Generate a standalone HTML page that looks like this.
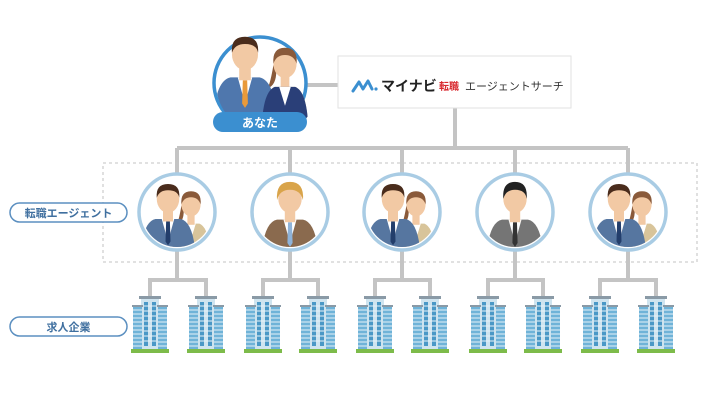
<!DOCTYPE html>
<html><head><meta charset="utf-8"><style>
html,body{margin:0;padding:0;background:#fff;}
svg{display:block}
text{font-family:"Liberation Sans","Noto Sans CJK JP",sans-serif;}
</style></head><body>
<svg width="720" height="415" viewBox="0 0 720 415" xmlns="http://www.w3.org/2000/svg">
<defs>
<g id="bld">
  <rect x="-11" y="0" width="22" height="3" fill="#8a9aa6"/>
  <rect x="-9" y="3" width="18" height="52" fill="#cfe4ef"/>
  <rect x="-17" y="10" width="9" height="45" fill="#6fb3d8"/>
  <rect x="8" y="10" width="9" height="45" fill="#6fb3d8"/>
  <rect x="-18" y="9" width="11" height="2" fill="#8a9aa6"/>
  <rect x="7" y="9" width="11" height="2" fill="#8a9aa6"/>
  <g fill="#4a98c6">
    <rect x="-6" y="6" width="4" height="44"/><rect x="2" y="6" width="4" height="44"/>
  </g>
  <g stroke="#e6f2f8" stroke-width="1">
    <path d="M-17 14H-8M-17 18H-8M-17 22H-8M-17 26H-8M-17 30H-8M-17 34H-8M-17 38H-8M-17 42H-8M-17 46H-8M-17 50H-8"/>
    <path d="M8 14H17M8 18H17M8 22H17M8 26H17M8 30H17M8 34H17M8 38H17M8 42H17M8 46H17M8 50H17"/>
    <path d="M-6 10H6M-6 15H6M-6 20H6M-6 25H6M-6 30H6M-6 35H6M-6 40H6M-6 45H6"/>
  </g>
  <rect x="-19" y="53" width="38" height="4" fill="#7dbb4a"/>
</g>
<g id="man">
  <path d="M-22 40 Q-20 14 -10 12 L10 12 Q20 14 22 40Z" fill="#5676a0"/>
  <path d="M-5 12 L0 30 L5 12Z" fill="#fff"/>
  <path d="M-1.5 14 L1.5 14 L2 30 L0 33 L-2 30Z" fill="#233e6b"/>
  <rect x="-4" y="5" width="8" height="9" fill="#f2c9a4"/>
  <ellipse cx="0" cy="-4" rx="9" ry="11" fill="#f2c9a4"/>
  <path d="M-9 -5 Q-10 -16 0 -16 Q10 -16 9 -5 Q8 -11 0 -11 Q-7 -11 -9 -5Z" fill="#4a2c1c"/>
</g>
<g id="woman">
  <path d="M-16 40 Q-15 16 -7 13 L7 13 Q15 16 16 40Z" fill="#d8c49a"/>
  <path d="M-4 13 L0 26 L4 13Z" fill="#fff"/>
  <rect x="-3" y="6" width="6" height="8" fill="#f2c9a4"/>
  <path d="M-8 -2 Q-10 10 -12 14 Q-6 12 -6 2Z" fill="#8a5a3a"/>
  <ellipse cx="0" cy="-3" rx="8" ry="10" fill="#f2c9a4"/>
  <path d="M-8 -3 Q-9 -14 0 -14 Q9 -14 8 -3 Q6 -9 0 -9 Q-6 -9 -8 -3Z" fill="#8a5a3a"/>
</g>
<clipPath id="cc"><circle cx="0" cy="0" r="35"/></clipPath>
<g id="pair">
  <circle r="38" fill="#fff" stroke="#a9cce4" stroke-width="3.5"/>
  <g clip-path="url(#cc)">
    <g transform="translate(14 -4) scale(1.2)"><use href="#woman"/></g>
    <g transform="translate(-9 -8) scale(1.25)"><use href="#man"/></g>
  </g>
</g>
<g id="single">
  <circle r="38" fill="#fff" stroke="#a9cce4" stroke-width="3.5"/>
</g>
</defs>

<rect x="103" y="163" width="594" height="99" fill="none" stroke="#cfcfcf" stroke-width="1.3" stroke-dasharray="3,3"/>

<g stroke="#c4c4c4" stroke-width="4" fill="none">
  <path d="M300 85H340"/>
  <path d="M455 108V148"/>
  <path d="M177 148H628"/>
  <path d="M177 148V175M290 148V175M402 148V175M515 148V175M628 148V175"/>
  <path d="M177 250V280M290 250V280M402 250V280M515 250V280M628 250V280"/>
  <path d="M150 280H206M263 280H318M375 280H430M488 280H543M600 280H656"/>
  <path d="M150 278V297M206 278V297M263 278V297M318 278V297M375 278V297M430 278V297M488 278V297M543 278V297M600 278V297M656 278V297"/>
</g>

<circle cx="260" cy="83" r="46" fill="#fff" stroke="#3b8fd0" stroke-width="3.5"/>
<clipPath id="tc"><path d="M200 20 H320 V83 A44 44 0 0 1 216 83 Z"/></clipPath>
<g clip-path="url(#tc)">
  <g transform="translate(285 68) scale(1.45)"><use href="#woman"/></g>
  <g transform="translate(245 60) scale(1.45)"><path d="M-22 40 Q-20 14 -10 12 L10 12 Q20 14 22 40Z" fill="#4f77ad"/>
    <path d="M-5 12 L0 30 L5 12Z" fill="#fff"/><path d="M-1.5 14 L1.5 14 L2 30 L0 33 L-2 30Z" fill="#e99a3a"/>
    <rect x="-4" y="5" width="8" height="9" fill="#f2c9a4"/><ellipse cx="0" cy="-4" rx="9" ry="11" fill="#f2c9a4"/>
    <path d="M-9 -5 Q-10 -16 0 -16 Q10 -16 9 -5 Q8 -11 0 -11 Q-7 -11 -9 -5Z" fill="#4a2c1c"/></g>
  <g transform="translate(285 68) scale(1.45)"><path d="M-16 40 Q-15 16 -7 13 L7 13 Q15 16 16 40Z" fill="#2a3f78"/><path d="M-4 13 L0 26 L4 13Z" fill="#fff"/></g>
</g>
<rect x="213" y="112" width="94" height="20" rx="10" fill="#3b8fd0"/>
<text x="260" y="127" font-size="12" font-weight="bold" fill="#fff" text-anchor="middle">あなた</text>

<rect x="338" y="56" width="233" height="52" fill="#fff" stroke="#e2e2e2" stroke-width="1"/>
<path d="M353 91 L359 82 L363 89 L368 81 L372 89" fill="none" stroke="#3b8fd0" stroke-width="3" stroke-linecap="round" stroke-linejoin="round"/>
<circle cx="376" cy="89" r="1.6" fill="#3b8fd0"/>
<text x="381" y="91" font-size="14" font-weight="bold" fill="#222">マイナビ</text>
<text x="439" y="90" font-size="10" font-weight="bold" fill="#d8282e">転職</text>
<text x="465" y="90" font-size="11" fill="#333">エージェントサーチ</text>

<g transform="translate(177 212)"><use href="#pair"/></g>
<g transform="translate(290 212)"><use href="#single"/><g clip-path="url(#cc)"><g transform="translate(0 -8) scale(1.3)"><path d="M-22 40 Q-20 14 -10 12 L10 12 Q20 14 22 40Z" fill="#8a6a4e"/><path d="M-5 12 L0 30 L5 12Z" fill="#fff"/><path d="M-1.5 14 L1.5 14 L2 30 L0 33 L-2 30Z" fill="#8fb3d8"/><rect x="-4" y="5" width="8" height="9" fill="#f2c9a4"/><ellipse cx="0" cy="-4" rx="9" ry="11" fill="#f2c9a4"/><path d="M-10 -3 Q-11 -17 0 -17 Q11 -17 10 -3 Q8 -11 0 -11 Q-8 -11 -10 -3Z" fill="#d9a44a"/></g></g></g>
<g transform="translate(402 212)"><use href="#pair"/></g>
<g transform="translate(515 212)"><use href="#single"/><g clip-path="url(#cc)"><g transform="translate(0 -8) scale(1.3)"><path d="M-22 40 Q-20 14 -10 12 L10 12 Q20 14 22 40Z" fill="#757575"/><path d="M-5 12 L0 30 L5 12Z" fill="#fff"/><path d="M-1.5 14 L1.5 14 L2 30 L0 33 L-2 30Z" fill="#333"/><rect x="-4" y="5" width="8" height="9" fill="#f2c9a4"/><ellipse cx="0" cy="-4" rx="9" ry="11" fill="#f2c9a4"/><path d="M-9 -4 Q-10 -17 0 -17 Q10 -17 9 -4 Q8 -11 0 -11 Q-7 -11 -9 -4Z" fill="#222"/></g></g></g>
<g transform="translate(628 212)"><use href="#pair"/></g>

<use href="#bld" x="150" y="296"/><use href="#bld" x="206" y="296"/>
<use href="#bld" x="263" y="296"/><use href="#bld" x="318" y="296"/>
<use href="#bld" x="375" y="296"/><use href="#bld" x="430" y="296"/>
<use href="#bld" x="488" y="296"/><use href="#bld" x="543" y="296"/>
<use href="#bld" x="600" y="296"/><use href="#bld" x="656" y="296"/>

<rect x="10" y="203" width="117" height="19" rx="9.5" fill="#fff" stroke="#5b8fc0" stroke-width="1.5"/>
<text x="68.5" y="217" font-size="11" font-weight="bold" fill="#3f6f9f" text-anchor="middle">転職エージェント</text>
<rect x="10" y="317" width="117" height="19" rx="9.5" fill="#fff" stroke="#5b8fc0" stroke-width="1.5"/>
<text x="68.5" y="331" font-size="11" font-weight="bold" fill="#3f6f9f" text-anchor="middle">求人企業</text>
</svg>
</body></html>
